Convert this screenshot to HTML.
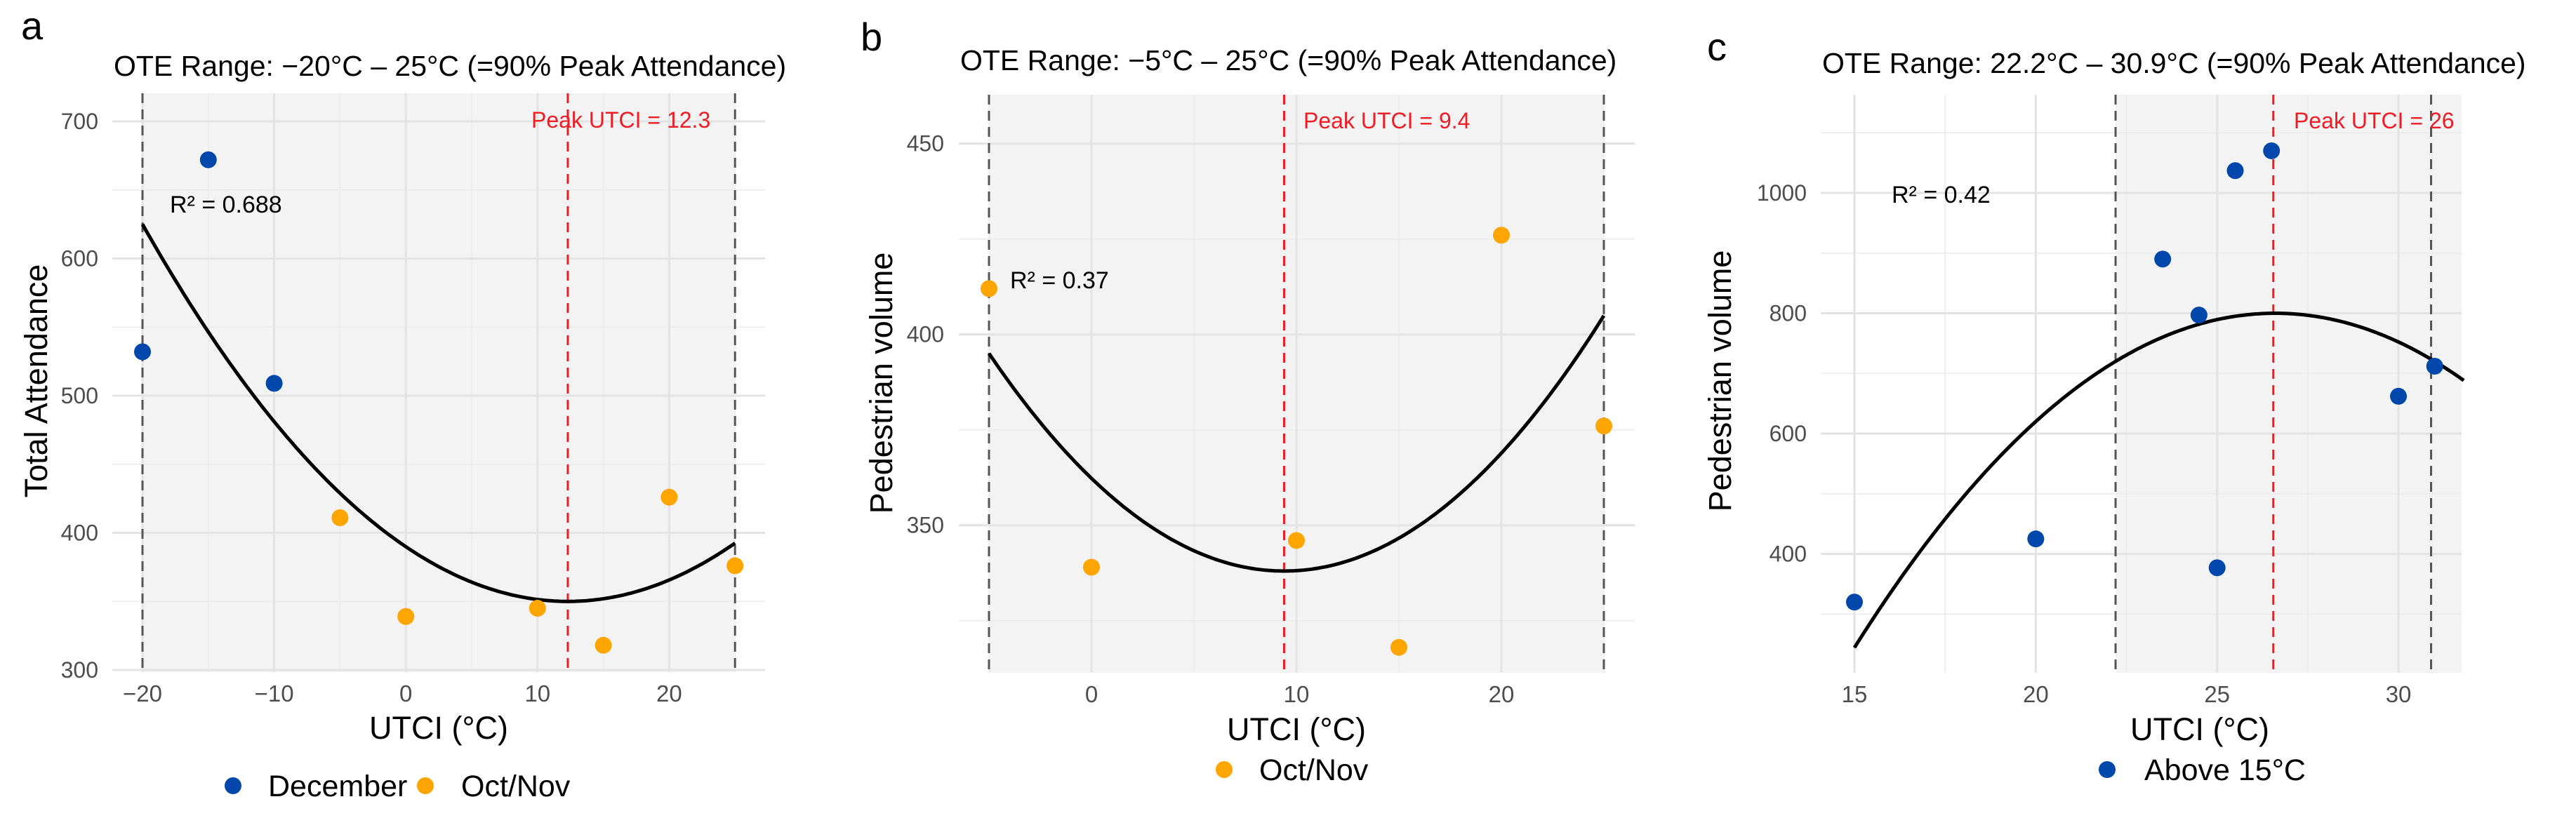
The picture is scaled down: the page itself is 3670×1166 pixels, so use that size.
<!DOCTYPE html>
<html><head><meta charset="utf-8"><style>
html,body{margin:0;padding:0;background:#fff;}
svg{display:block;font-family:"Liberation Sans",Arial,sans-serif;}
</style></head><body>
<svg id="fig" width="3670" height="1166" viewBox="0 0 3670 1166" xmlns="http://www.w3.org/2000/svg"></svg>
<script>
// Panel a data
const aDecX = [-20, -15, -10];
const aDecY = [532, 672, 509];
const aOctX = [-5, 0, 10, 15, 20, 25];
const aOctY = [411, 339, 345, 318, 426, 376];
const aFit = [0.2636, 12.3, 350]; // a*(x-h)^2+k
const aOte = [-20, 25];
const aPeak = 12.3;
const aXTicks = [-20, -10, 0, 10, 20];
const aYTicks = [300, 400, 500, 600, 700];
// Panel b data
const bOctX = [-5, 0, 10, 15, 20, 25];
const bOctY = [412, 339, 346, 318, 426, 376];
const bFit = [0.275, 9.4, 338];
const bOte = [-5, 25];
const bPeak = 9.4;
const bXTicks = [0, 10, 20];
const bYTicks = [350, 400, 450];
// Panel c data
const cX = [15, 20, 23.5, 24.5, 25, 25.5, 26.5, 30, 31];
const cY = [320, 425, 890, 797, 377, 1037, 1070, 662, 712];
const cFit = [-4.13, 26.6, 800];
const cOte = [22.2, 30.9];
const cPeak = 26.55;
const cXTicks = [15, 20, 25, 30];
const cYTicks = [400, 600, 800, 1000];

const NS = "http://www.w3.org/2000/svg";
const svg = document.getElementById('fig');
function mk(tag, attrs, parent){
  const e = document.createElementNS(NS, tag);
  for (const k in attrs) e.setAttribute(k, attrs[k]);
  (parent||svg).appendChild(e);
  return e;
}
function txt(s, attrs, parent){ const e = mk('text', attrs, parent); e.textContent = s; return e; }

function panel(cfg){
  const g = mk('g', {});
  
  
  const sx = v => cfg.px0 + (v - cfg.x0) * cfg.kx;
  const sy = v => cfg.py0 - (v - cfg.y0) * cfg.ky;
  const L = cfg.left, R = cfg.right, T = cfg.top, B = cfg.bottom;
  // shade
  const s1 = sx(cfg.ote[0]), s2 = cfg.shadeToEdge ? R : sx(cfg.ote[1]);
  const sh = mk('rect', {x:s1, y:T, width:s2-s1, height:B-T, fill:'#f3f3f3'}, g);
  
  
  // grid
  cfg.minorY.forEach(v => mk('line', {x1:L, x2:R, y1:sy(v), y2:sy(v), stroke:'#ebebeb', 'stroke-width':1.5}, g));
  cfg.minorX.forEach(v => mk('line', {x1:sx(v), x2:sx(v), y1:T, y2:B, stroke:'#ebebeb', 'stroke-width':1.5}, g));
  cfg.yTicks.forEach(v => mk('line', {x1:L, x2:R, y1:sy(v), y2:sy(v), stroke:'#e3e3e3', 'stroke-width':3}, g));
  cfg.xTicks.forEach(v => mk('line', {x1:sx(v), x2:sx(v), y1:T, y2:B, stroke:'#e3e3e3', 'stroke-width':3}, g));
  // tick labels
  cfg.yTicks.forEach(v => {
    const t = txt(String(v), {x:cfg.ytickX, y:sy(v)+11, 'text-anchor':'end', 'font-size':32, fill:'#4d4d4d'}, g);
    
    
  });
  cfg.xTicks.forEach(v => {
    const t = txt(String(v).replace('-', '\u2212'), {x:sx(v), y:B+42, 'text-anchor':'middle', 'font-size':33, fill:'#4d4d4d'}, g);
    
    
  });
  // OTE lines
  cfg.ote.forEach(v => {
    const l = mk('line', {x1:sx(v), x2:sx(v), y1:T, y2:B, stroke:'#555', 'stroke-width':3, 'stroke-dasharray':'14 9'}, g);
    
    
  });
  const pl = mk('line', {x1:sx(cfg.peak), x2:sx(cfg.peak), y1:T, y2:B, stroke:'#ee1c25', 'stroke-width':3, 'stroke-dasharray':'14 9'}, g);
  
  
  // fit curve
  let d = '';
  const xa = cfg.curveX[0], xb = cfg.curveX[1];
  for (let i = 0; i <= 200; i++) {
    const x = xa + (xb - xa) * i / 200;
    const y = cfg.fit[0] * (x - cfg.fit[1]) ** 2 + cfg.fit[2];
    d += (i ? 'L' : 'M') + sx(x).toFixed(1) + ' ' + sy(y).toFixed(1);
  }
  const c = mk('path', {d:d, fill:'none', stroke:'#000', 'stroke-width':5}, g);
  
  
  // points
  cfg.series.forEach(s => {
    s.x.forEach((xv, i) => {
      const p = mk('circle', {cx:sx(xv), cy:sy(s.y[i]), r:12, fill:s.color}, g);
      
      
    });
  });
  // annotations
  const pk = txt(cfg.peakText, {x:cfg.peakPos[0], y:cfg.peakPos[1]+11, 'font-size':32, fill:'#ee1c25'}, g);
  
  
  const r2 = txt(cfg.r2Text, {x:cfg.r2Pos[0], y:cfg.r2Pos[1]+12, 'font-size':34, fill:'#000'}, g);
  
  
  // titles
  const tt = txt(cfg.title, {x:L+2, y:cfg.titleY, 'font-size':41, fill:'#000'}, g);
  
  
  const lt = txt(cfg.letter, {x:cfg.letterPos[0], y:cfg.letterPos[1], 'font-size':56, fill:'#000'}, g);
  
  
  const xt = txt('UTCI (°C)', {x:cfg.xTitle[0], y:cfg.xTitle[1]+16, 'text-anchor':'middle', 'font-size':45, fill:'#000'}, g);
  
  
  const yt = txt(cfg.yLabel, {x:0, y:0, 'text-anchor':'middle', 'font-size':45, fill:'#000', transform:'translate(' + (cfg.yTitle[0]+16) + ',' + cfg.yTitle[1] + ') rotate(-90)'}, g);
  
  
  // legend
  cfg.legend.forEach(le => {
    const lg = mk('g', {}, g);
    
    
    mk('circle', {cx:le.dx, cy:le.y, r:12, fill:le.color}, lg);
    txt(le.label, {x:le.tx, y:le.y+15, 'font-size':43, fill:'#000'}, lg);
  });
}

const ORANGE = '#ffa500', BLUE = '#0047ab';

panel({name:'panel-a', px0:203, x0:-20, kx:18.76, py0:955, y0:300, ky:1.955,
  left:160, right:1090, top:133, bottom:958, ote:aOte, peak:aPeak, fit:aFit, curveX:[-20,25],
  xTicks:aXTicks, yTicks:aYTicks, minorX:[-15,-5,5,15,25], minorY:[350,450,550,650],
  ytickX:140, series:[{x:aDecX,y:aDecY,color:BLUE,key:'december'},{x:aOctX,y:aOctY,color:ORANGE,key:'oct-nov'}],
  peakText:'Peak UTCI = 12.3', peakPos:[757,171], r2Text:'R² = 0.688', r2Pos:[242,291],
  title:'OTE Range: \u221220°C \u2013 25°C (=90% Peak Attendance)', titleY:108, letter:'a', letterPos:[30,56],
  xTitle:[625,1037], yTitle:[51,543], yLabel:'Total Attendance',
  legend:[{dx:332,tx:382,y:1120,color:BLUE,label:'December'},{dx:606,tx:657,y:1120,color:ORANGE,label:'Oct/Nov'}]});

panel({name:'panel-b', px0:1555, x0:0, kx:29.2, py0:748.7, y0:350, ky:5.44,
  left:1366, right:2329, top:135, bottom:959, ote:bOte, peak:bPeak, fit:bFit, curveX:[-5,25],
  xTicks:bXTicks, yTicks:bYTicks, minorX:[-5,5,15,25], minorY:[325,375,425],
  ytickX:1345, series:[{x:bOctX,y:bOctY,color:ORANGE,key:'oct-nov'}],
  peakText:'Peak UTCI = 9.4', peakPos:[1857,172], r2Text:'R² = 0.37', r2Pos:[1439,399],
  title:'OTE Range: \u22125°C \u2013 25°C (=90% Peak Attendance)', titleY:100, letter:'b', letterPos:[1226,72],
  xTitle:[1847,1039], yTitle:[1255,546], yLabel:'Pedestrian volume',
  legend:[{dx:1744,tx:1794,y:1097,color:ORANGE,label:'Oct/Nov'}]});

panel({name:'panel-c', px0:2642, x0:15, kx:51.67, py0:789.6, y0:400, ky:0.8577,
  left:2594, right:3507, top:135, bottom:959, ote:cOte, peak:cPeak, fit:cFit, curveX:[15,31.8], shadeToEdge:true,
  xTicks:cXTicks, yTicks:cYTicks, minorX:[17.5,22.5,27.5], minorY:[300,500,700,900,1100],
  ytickX:2574, series:[{x:cX,y:cY,color:BLUE,key:'above-15c'}],
  peakText:'Peak UTCI = 26', peakPos:[3268,172], r2Text:'R² = 0.42', r2Pos:[2695,277],
  title:'OTE Range: 22.2°C \u2013 30.9°C (=90% Peak Attendance)', titleY:104, letter:'c', letterPos:[2432,86],
  xTitle:[3134,1039], yTitle:[2450,543], yLabel:'Pedestrian volume',
  legend:[{dx:3002,tx:3055,y:1097,color:BLUE,label:'Above 15°C'}]});
</script>
</body></html>
